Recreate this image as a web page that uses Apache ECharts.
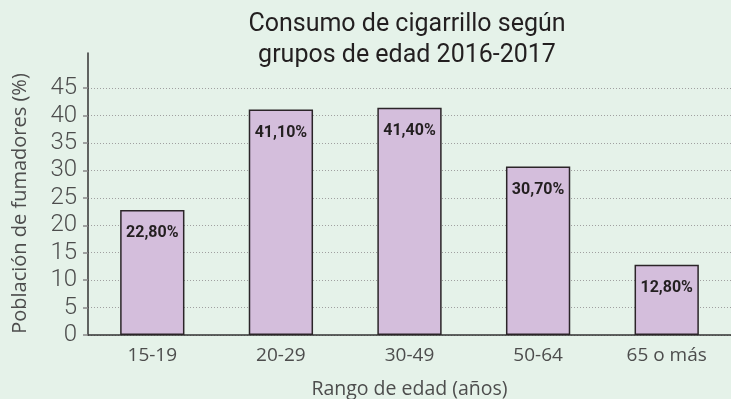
<!DOCTYPE html>
<html>
<head>
<meta charset="utf-8">
<script src="https://cdn.jsdelivr.net/npm/echarts@6/dist/echarts.min.js"></script>
<style>
  html, body { margin: 0; padding: 0; background: #e5f2e9; }
  #chart { width: 731px; height: 399px; }
</style>
</head>
<body>
<div id="chart"></div>
<script>
// Age groups and share of smokers (%) per group
const ageGroups = ['15-19', '20-29', '30-49', '50-64', '65 o más'];
const smokerShare = [22.8, 41.1, 41.4, 30.7, 12.8];
const yTicks = [0, 5, 10, 15, 20, 25, 30, 35, 40, 45];

const titleLines = ['Consumo de cigarrillo según', 'grupos de edad 2016-2017'];
const yName = 'Población de fumadores (%)';
const xName = 'Rango de edad (años)';

const fmtPct = v => v.toFixed(2).replace('.', ',') + '%';

const chart = echarts.init(document.getElementById('chart'), null, { renderer: 'canvas' });
chart.setOption({
  backgroundColor: '#e5f2e9',
  animation: false,
  title: {
    text: titleLines.join('\n'),
    left: 407,
    top: 9,
    padding: 0,
    textAlign: 'center',
    textStyle: {
      fontFamily: 'Roboto',
      fontWeight: 'normal',
      fontSize: 25,
      lineHeight: 31,
      color: '#231f20'
    }
  },
  grid: { left: 88, right: 0, top: 53, bottom: 64, containLabel: false, outerBoundsMode: 'none' },
  xAxis: {
    type: 'category',
    data: ageGroups,
    name: xName,
    nameLocation: 'middle',
    nameGap: 44,
    nameTextStyle: { fontFamily: 'Open Sans', fontSize: 19.5, color: '#4d4d4d' },
    axisLine: { lineStyle: { color: '#333', width: 1.5 } },
    axisTick: { show: false },
    axisLabel: { fontFamily: 'Open Sans', fontSize: 19, color: '#4d4d4d', margin: 11 }
  },
  yAxis: {
    type: 'value',
    min: 0,
    max: 51.4,
    interval: 5,
    name: yName,
    nameLocation: 'middle',
    nameGap: 58,
    nameTextStyle: { fontFamily: 'Open Sans', fontSize: 20, color: '#4d4d4d', padding: [0, 19, 0, 0] },
    axisLine: { show: true, lineStyle: { color: '#333', width: 1.5 } },
    axisTick: { show: true, length: 5, customValues: yTicks, lineStyle: { color: '#888', width: 1.5 } },
    axisLabel: { fontFamily: 'Roboto', fontWeight: 300, fontSize: 24, color: '#4d4d4d', margin: 11, customValues: yTicks },
    splitLine: { show: true, lineStyle: { type: [1, 2], color: '#a0a0a0', width: 1 } }
  },
  series: [{
    type: 'bar',
    data: smokerShare,
    barWidth: '50%',
    itemStyle: { color: '#d4bedc', borderColor: '#2b2528', borderWidth: 1.5 },
    label: {
      show: true,
      position: 'insideTop',
      distance: 15,
      formatter: p => fmtPct(p.value),
      fontFamily: 'Roboto',
      fontWeight: 'bold',
      fontSize: 16,
      color: '#231f20'
    }
  }]
});
</script>
</body>
</html>
